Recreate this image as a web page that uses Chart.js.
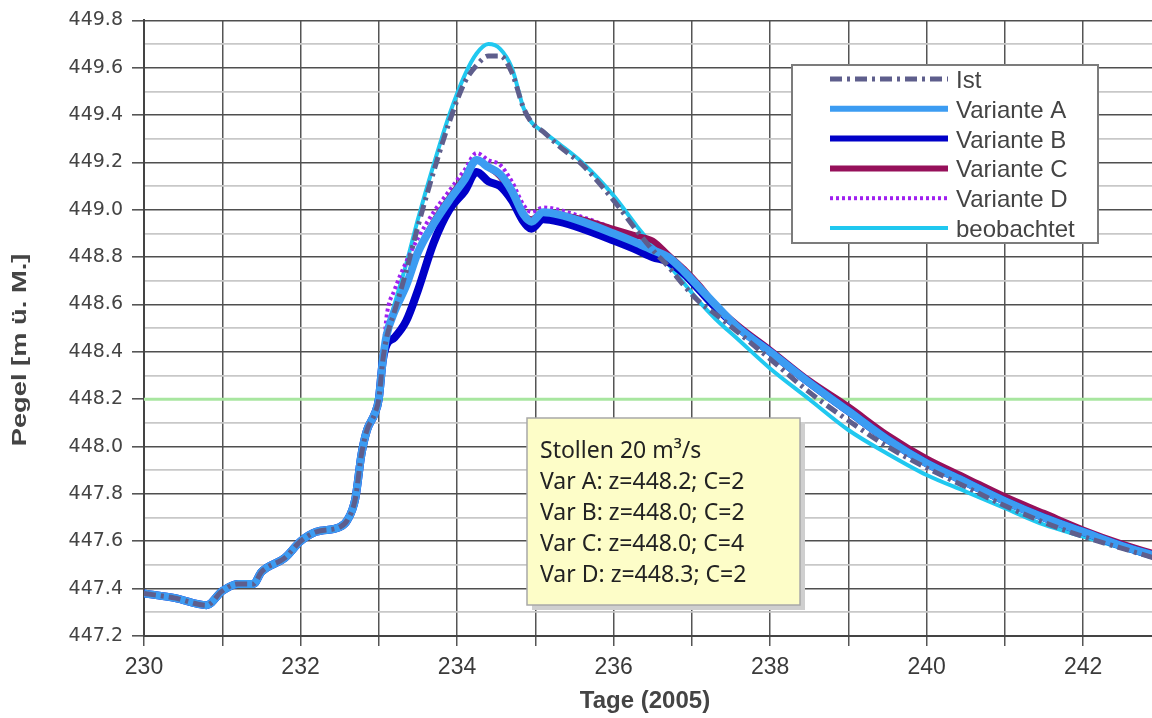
<!DOCTYPE html>
<html lang="de">
<head>
<meta charset="UTF-8">
<title>Pegel - Stollen 20 m³/s</title>
<script src="https://cdn.jsdelivr.net/npm/chart.js"></script>
<style>
  body { margin: 0; background: #fff; }
  canvas { display: block; }
</style>
</head>
<body>
<canvas id="pegelChart" width="1152" height="718"></canvas>
<script>
// Tage (2005) - gemeinsame Stützstellen aller Reihen
const tage = [230.0, 230.4, 230.8, 231.0, 231.2, 231.4, 231.5, 231.8, 232.0, 232.2,
  232.5, 232.6, 232.7, 232.78, 232.85, 232.95, 233.0, 233.05,
  233.1, 233.2, 233.35, 233.5, 233.7, 233.9, 234.1, 234.25, 234.4, 234.55,
  234.7, 234.85, 234.95, 235.1, 235.3, 235.6, 236.0, 236.3, 236.5, 236.7,
  236.9, 237.1, 237.3, 237.6, 238.0, 238.5, 239.0, 239.5, 240.0, 240.5,
  241.0, 241.5, 242.0, 242.5, 242.9];

// Anstieg bis Tag 233.05, hier liegen alle Reihen übereinander
const anstieg = [447.38, 447.36, 447.33, 447.39, 447.42, 447.42, 447.47, 447.53, 447.60, 447.64,
  447.66, 447.69, 447.78, 447.97, 448.07, 448.14, 448.20, 448.36];

const ist = anstieg.concat([448.46, 448.57, 448.74, 448.93, 449.16, 449.37, 449.54, 449.61, 449.65, 449.65,
  449.58, 449.43, 449.37, 449.33, 449.27, 449.19, 449.04, 448.91, 448.83, 448.76,
  448.68, 448.61, 448.56, 448.48, 448.37, 448.23, 448.11, 448.00, 447.91, 447.83,
  447.75, 447.68, 447.62, 447.57, 447.53]);

const varA = anstieg.concat([448.47, 448.57, 448.68, 448.82, 448.94, 449.04, 449.13, 449.21, 449.18, 449.15,
  449.08, 448.98, 448.95, 448.99, 448.98, 448.95, 448.90, 448.86, 448.83, 448.80,
  448.74, 448.67, 448.60, 448.50, 448.40, 448.27, 448.15, 448.03, 447.93, 447.85,
  447.77, 447.70, 447.64, 447.58, 447.54]);

const varB = anstieg.concat([448.43, 448.46, 448.53, 448.66, 448.86, 449.00, 449.08, 449.16, 449.12, 449.10,
  449.04, 448.95, 448.92, 448.96, 448.95, 448.92, 448.87, 448.83, 448.80, 448.78,
  448.73, 448.66, 448.59, 448.50, 448.40, 448.27, 448.15, 448.03, 447.93, 447.85,
  447.77, 447.70, 447.64, 447.58, 447.54]);

const varC = anstieg.concat([448.47, 448.57, 448.68, 448.82, 448.95, 449.05, 449.14, 449.21, 449.18, 449.14,
  449.06, 448.98, 448.96, 448.99, 448.98, 448.96, 448.92, 448.89, 448.87, 448.81,
  448.75, 448.68, 448.60, 448.51, 448.41, 448.28, 448.17, 448.05, 447.95, 447.87,
  447.79, 447.72, 447.65, 447.59, 447.55]);

const varD = anstieg.concat([448.55, 448.66, 448.78, 448.88, 448.99, 449.08, 449.17, 449.24, 449.21, 449.19,
  449.12, 449.02, 448.99, 449.01, 449.00, 448.97, 448.92, 448.87, 448.84, 448.80,
  448.74, 448.67, 448.60, 448.50, 448.40, 448.27, 448.15, 448.03, 447.93, 447.85,
  447.77, 447.70, 447.64, 447.58, 447.54]);

const beobachtet = anstieg.concat([448.48, 448.60, 448.77, 448.96, 449.19, 449.40, 449.57, 449.66, 449.70, 449.68,
  449.60, 449.43, 449.37, 449.33, 449.28, 449.20, 449.06, 448.93, 448.85, 448.77,
  448.69, 448.61, 448.54, 448.45, 448.33, 448.20, 448.07, 447.97, 447.88, 447.81,
  447.74, 447.67, 447.62, 447.57, 447.53]);

// Schwellwert (grüne Linie)
const schwelleTage = [230, 242.9];
const schwelleWert = [448.2, 448.2];

// Tick-Positionen der x-Achse (beschriftet wird jeder zweite Tag)
const xTicks = [230, 231, 232, 233, 234, 235, 236, 237, 238, 239, 240, 241, 242];

const hinweis = ['Stollen 20 m³/s', 'Var A: z=448.2; C=2', 'Var B: z=448.0; C=2',
  'Var C: z=448.0; C=4', 'Var D: z=448.3; C=2'];

const xTitel = 'Tage (2005)';
const yTitel = 'Pegel [m ü. M.]';

function punkte(xs, ys) {
  return ys.map((y, i) => ({ x: xs[i], y: y }));
}

function reihe(label, werte, farbe, breite, strich) {
  return {
    label: label,
    data: punkte(tage, werte),
    borderColor: farbe,
    borderWidth: breite,
    borderDash: strich || [],
    pointRadius: 0,
    cubicInterpolationMode: 'monotone',
    fill: false
  };
}

// Legende und Textkasten werden direkt auf die Zeichenfläche gemalt
const overlay = {
  id: 'overlay',
  afterDraw(chart) {
    const c = chart.ctx;
    c.save();

    // Legende
    c.fillStyle = '#ffffff';
    c.strokeStyle = '#7c7c7c';
    c.lineWidth = 2;
    c.fillRect(792, 65, 306, 178);
    c.strokeRect(792, 65, 306, 178);
    const items = chart.data.datasets.filter(d => d.label);
    c.font = '24px "Liberation Sans", Arial, sans-serif';
    c.textBaseline = 'alphabetic';
    c.textAlign = 'left';
    items.forEach((d, i) => {
      const y = 79 + i * 29.8;
      c.beginPath();
      c.strokeStyle = d.borderColor;
      c.lineWidth = Math.min(d.borderWidth, 6);
      c.setLineDash(d.borderDash);
      c.lineCap = 'butt';
      c.moveTo(830, y);
      c.lineTo(948, y);
      c.stroke();
      c.setLineDash([]);
      c.fillStyle = '#444444';
      c.fillText(d.label, 956, y + 9);
    });

    // Textkasten
    c.fillStyle = '#cfcfcf';
    c.fillRect(532, 422, 273, 188);
    c.fillStyle = '#fdfdc8';
    c.fillRect(527, 418, 273, 187);
    c.strokeStyle = '#a8a8a8';
    c.lineWidth = 1.5;
    c.strokeRect(527, 418, 273, 187);
    c.fillStyle = '#222222';
    c.font = '23px "Noto Sans", "Open Sans", sans-serif';
    hinweis.forEach((t, i) => c.fillText(t, 540, 458 + i * 31));

    // Achsentitel
    c.fillStyle = '#444444';
    c.font = 'bold 24px "Liberation Sans", Arial, sans-serif';
    c.textAlign = 'center';
    c.fillText(xTitel, 645, 708);
    c.translate(26, 350);
    c.rotate(-Math.PI / 2);
    c.scale(1.3, 1);
    c.font = 'bold 21px "Liberation Sans", Arial, sans-serif';
    c.fillText(yTitel, 0, 0);

    c.restore();
  }
};

const istMajor = v => Math.round(v * 10) % 2 === 0;

new Chart(document.getElementById('pegelChart'), {
  type: 'line',
  data: {
    datasets: [
      reihe('Ist', ist, '#5e5e8c', 5, [12, 5, 3, 5]),
      reihe('Variante A', varA, '#3c9cf2', 8),
      reihe('Variante B', varB, '#0000c8', 8),
      reihe('Variante C', varC, '#96105a', 6),
      reihe('Variante D', varD, '#a020f0', 4, [3, 3]),
      reihe('beobachtet', beobachtet, '#20c8f0', 4),
      {
        label: '',
        data: punkte(schwelleTage, schwelleWert),
        borderColor: '#a8e6a0',
        borderWidth: 3,
        pointRadius: 0
      }
    ]
  },
  options: {
    responsive: false,
    animation: false,
    layout: { padding: { top: 20, right: 0, bottom: 0, left: 0 } },
    plugins: { legend: { display: false }, tooltip: { enabled: false } },
    scales: {
      x: {
        type: 'linear',
        min: 230,
        max: 242.88,
        afterBuildTicks(scale) {
          scale.ticks = xTicks.map(v => ({ value: v }));
        },
        afterFit(scale) { scale.height = 82; },
        ticks: {
          autoSkip: false,
          maxRotation: 0,
          padding: 8,
          color: '#3a3a3a',
          font: { family: '"Liberation Sans", Arial, sans-serif', size: 23 },
          callback: v => (Math.round(v) % 2 === 0 ? String(Math.round(v)) : '')
        },
        grid: { color: '#555555', lineWidth: 1.5, tickLength: 10, tickColor: '#555555' },
        border: { color: '#444444', width: 2 }
      },
      y: {
        min: 447.2,
        max: 449.8,
        afterFit(scale) { scale.width = 144; },
        ticks: {
          stepSize: 0.1,
          autoSkip: false,
          padding: 9,
          color: '#444444',
          font: { family: '"DejaVu Sans", sans-serif', size: 19 },
          callback: v => (istMajor(v) ? v.toFixed(1) : '')
        },
        grid: {
          color: ctx => (ctx.tick && istMajor(ctx.tick.value) ? '#4f4f4f' : '#c8c8c8'),
          lineWidth: ctx => (ctx.tick && istMajor(ctx.tick.value) ? 1.6 : 1.8),
          tickLength: 12,
          tickColor: ctx => (ctx.tick && istMajor(ctx.tick.value) ? '#555555' : 'rgba(0,0,0,0)')
        },
        border: { color: '#444444', width: 2 }
      }
    }
  },
  plugins: [overlay]
});
</script>
</body>
</html>
